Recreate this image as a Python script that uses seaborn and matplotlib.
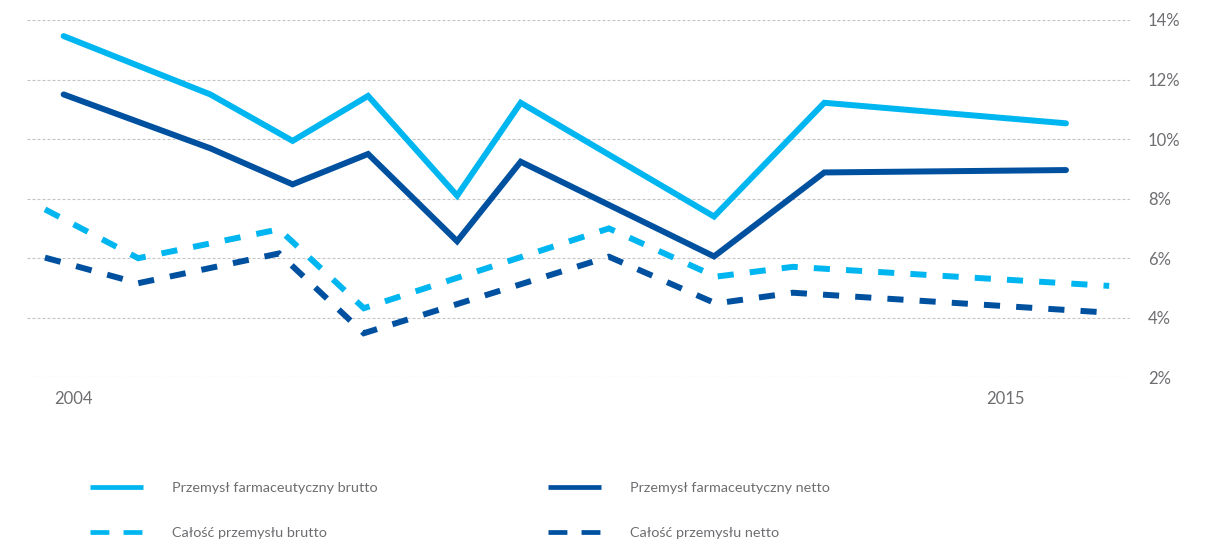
import matplotlib
matplotlib.use("Agg")
import matplotlib.pyplot as plt
from matplotlib.lines import Line2D
import seaborn as sns

# values (x in years, y in %)
solid_years = [2003.89, 2005.62, 2006.59, 2007.48, 2008.53, 2009.28, 2011.56, 2012.86, 2015.71]
pharma_gross = [13.46, 11.50, 9.94, 11.45, 8.10, 11.22, 7.40, 11.22, 10.53]
pharma_net = [11.50, 9.69, 8.48, 9.50, 6.57, 9.24, 6.06, 8.88, 8.96]

total_years = [2003.67, 2004.77, 2006.43, 2007.43, 2010.32, 2011.58, 2012.49, 2016.22]
total_gross = [7.64, 6.00, 6.97, 4.32, 7.00, 5.38, 5.71, 5.07]
total_net = [6.02, 5.16, 6.16, 3.48, 6.05, 4.48, 4.84, 4.17]

labels = ["Przemysł farmaceutyczny brutto", "Przemysł farmaceutyczny netto",
          "Całość przemysłu brutto", "Całość przemysłu netto"]
x_ticks = [2004, 2015]
y_ticks = [2, 4, 6, 8, 10, 12, 14]

LIGHT = "#00b6f0"
DARK = "#0050a0"
GREY = "#6d6e71"

sns.set_style("white")
plt.rcParams['font.family'] = ['Lato', 'DejaVu Sans']

W, H = 1211, 544
fig = plt.figure(figsize=(W / 100, H / 100), dpi=100)
ax = fig.add_axes([27 / W, 1 - 377.3 / H, (1130 - 27) / W, (377.3 - 20) / H])

# solid lines (pharma)
sns.lineplot(x=solid_years, y=pharma_gross, ax=ax, color=LIGHT, lw=4.3,
             solid_joinstyle='miter', sort=False)
sns.lineplot(x=solid_years, y=pharma_net, ax=ax, color=DARK, lw=4.3,
             solid_joinstyle='miter', sort=False)
# dashed lines (whole industry)
sns.lineplot(x=total_years, y=total_gross, ax=ax, color=LIGHT, lw=4.3, sort=False)
ax.lines[-1].set_linestyle((0, (2.7, 2.7)))
sns.lineplot(x=total_years, y=total_net, ax=ax, color=DARK, lw=4.3, sort=False)
ax.lines[-1].set_linestyle((0, (2.7, 2.7)))
for ln in ax.lines:
    ln.set_clip_on(False)
    ln.set_dash_joinstyle('miter')

ax.set_xlim(2003.458, 2016.465)
ax.set_ylim(2, 14)
ax.set_xticks(x_ticks)
ax.set_xticklabels([str(x) for x in x_ticks])
ax.set_yticks(y_ticks)
ax.set_yticklabels([f"{v}%" for v in y_ticks])
ax.yaxis.tick_right()
ax.tick_params(axis='y', length=0, pad=13, labelsize=12, labelcolor=GREY)
ax.tick_params(axis='x', length=0, pad=10, labelsize=12, labelcolor=GREY)
ax.yaxis.grid(True, color="#c4c4c4", lw=0.8, linestyle=(0, (2.7, 1.8)))
ax.xaxis.grid(False)
ax.set_axisbelow(True)
sns.despine(ax=ax, left=True, bottom=True)
ax.set_xlabel("")
ax.set_ylabel("")
if ax.get_legend():
    ax.get_legend().remove()

# legend, one entry per spot
handles = [
    Line2D([], [], color=LIGHT, lw=3.4, solid_capstyle='butt'),
    Line2D([], [], color=DARK, lw=3.4, solid_capstyle='butt'),
    Line2D([], [], color=LIGHT, lw=3.4, linestyle=(0, (4.0, 3.0))),
    Line2D([], [], color=DARK, lw=3.4, linestyle=(0, (4.0, 3.0))),
]
spots = [(90, 488), (548, 488), (90, 533), (548, 533)]
for h, lab, (px, py) in zip(handles, labels, spots):
    leg = fig.legend([h], [lab], loc='center left',
                     bbox_to_anchor=(px / W, 1 - py / H), bbox_transform=fig.transFigure,
                     frameon=False, borderpad=0, borderaxespad=0,
                     handlelength=3.65, handletextpad=2.0, fontsize=10.4,
                     labelcolor=GREY)

fig.savefig("out.png", dpi=100)
